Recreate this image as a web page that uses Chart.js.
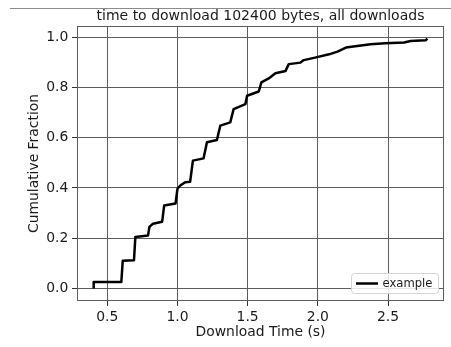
<!DOCTYPE html>
<html>
<head>
<meta charset="utf-8">
<script src="https://cdn.jsdelivr.net/npm/chart.js@4/dist/chart.umd.min.js"></script>
<style>
  html, body { margin: 0; padding: 0; background: #ffffff; }
  #wrap { position: relative; width: 451px; height: 347px; }
  canvas { display: block; }
</style>
</head>
<body>
<div id="wrap"><canvas id="c" width="451" height="347"></canvas></div>
<script>
const chartTitle = 'time to download 102400 bytes, all downloads';
const xAxisLabel = 'Download Time (s)';
const yAxisLabel = 'Cumulative Fraction';
const seriesLabel = 'example';

const downloadTimes = [
  0.403, 0.403, 0.600, 0.610, 0.690, 0.700, 0.790, 0.800, 0.826, 0.891,
  0.905, 0.986, 1.000, 1.020, 1.055, 1.090, 1.110, 1.186, 1.210, 1.281,
  1.305, 1.376, 1.400, 1.484, 1.496, 1.579, 1.598, 1.650, 1.698, 1.770,
  1.793, 1.876, 1.900, 1.980, 2.080, 2.140, 2.200, 2.280, 2.376, 2.480,
  2.615, 2.660, 2.770, 2.780
];
const cumulativeFraction = [
  0.000, 0.026, 0.026, 0.110, 0.112, 0.205, 0.211, 0.245, 0.258, 0.266,
  0.330, 0.338, 0.397, 0.410, 0.423, 0.425, 0.509, 0.518, 0.582, 0.591,
  0.648, 0.661, 0.714, 0.734, 0.767, 0.784, 0.820, 0.836, 0.857, 0.866,
  0.893, 0.899, 0.909, 0.919, 0.932, 0.943, 0.959, 0.965, 0.972, 0.976,
  0.979, 0.985, 0.988, 0.995
];
const xTickValues = [0.5, 1.0, 1.5, 2.0, 2.5];
const yTickValues = [0.0, 0.2, 0.4, 0.6, 0.8, 1.0];

const FONT = "'DejaVu Sans', 'Liberation Sans', sans-serif";
const GRID = '#5c5c5c';
const TEXT = '#1a1a1a';

const points = downloadTimes.map((t, i) => ({ x: t, y: cumulativeFraction[i] }));

const xMin = Math.min(...downloadTimes), xMax = Math.max(...downloadTimes);
const xPad = (xMax - xMin) * 0.05;
const yMin = 0, yMax = Math.max(...cumulativeFraction);
const yPad = (yMax - yMin) * 0.05;

const decorPlugin = {
  id: 'decor',
  beforeDraw(chart) {
    const ctx = chart.ctx;
    ctx.save();
    ctx.fillStyle = '#ffffff';
    ctx.fillRect(0, 0, chart.width, chart.height);
    ctx.fillStyle = '#8c8c8c';
    ctx.fillRect(10, 8, chart.width - 10, 1);
    ctx.restore();
  },
  afterDraw(chart) {
    const ctx = chart.ctx;
    const a = chart.chartArea;
    ctx.save();
    // frame
    ctx.strokeStyle = GRID;
    ctx.lineWidth = 1;
    ctx.strokeRect(Math.round(a.left) + 0.5, Math.round(a.top) + 0.5,
                   Math.round(a.right - a.left) - 1, Math.round(a.bottom - a.top) - 1);
    // title
    ctx.fillStyle = TEXT;
    ctx.font = '14px ' + FONT;
    ctx.textAlign = 'center';
    ctx.textBaseline = 'alphabetic';
    ctx.fillText(chartTitle, (a.left + a.right) / 2, 19.5);
    // legend
    const fs = 11.6;
    ctx.font = fs + 'px ' + FONT;
    const tw = ctx.measureText(seriesLabel).width;
    const bx = 351.5, by = 273.5;
    const bw = 87, bh = 20;
    const r = 3;
    ctx.beginPath();
    ctx.moveTo(bx + r, by);
    ctx.lineTo(bx + bw - r, by);
    ctx.quadraticCurveTo(bx + bw, by, bx + bw, by + r);
    ctx.lineTo(bx + bw, by + bh - r);
    ctx.quadraticCurveTo(bx + bw, by + bh, bx + bw - r, by + bh);
    ctx.lineTo(bx + r, by + bh);
    ctx.quadraticCurveTo(bx, by + bh, bx, by + bh - r);
    ctx.lineTo(bx, by + r);
    ctx.quadraticCurveTo(bx, by, bx + r, by);
    ctx.closePath();
    ctx.fillStyle = 'rgba(255,255,255,0.85)';
    ctx.fill();
    ctx.strokeStyle = '#d4d4d4';
    ctx.stroke();
    ctx.strokeStyle = '#000000';
    ctx.lineWidth = 2.5;
    ctx.beginPath();
    ctx.moveTo(356, by + bh / 2);
    ctx.lineTo(378, by + bh / 2);
    ctx.stroke();
    ctx.fillStyle = TEXT;
    ctx.textAlign = 'left';
    ctx.textBaseline = 'middle';
    ctx.fillText(seriesLabel, 382.5, by + bh / 2);
    ctx.restore();
  }
};

new Chart(document.getElementById('c'), {
  type: 'line',
  data: {
    datasets: [{
      label: seriesLabel,
      data: points,
      borderColor: '#000000',
      borderWidth: 2.5,
      pointRadius: 0,
      tension: 0,
      fill: false,
      borderJoinStyle: 'round',
      borderCapStyle: 'butt'
    }]
  },
  options: {
    responsive: false,
    animation: false,
    devicePixelRatio: 1,
    layout: { padding: { top: 26, right: 7, left: 0, bottom: 0 } },
    plugins: {
      legend: { display: false },
      title: { display: false },
      tooltip: { enabled: false }
    },
    scales: {
      x: {
        type: 'linear',
        min: xMin - xPad,
        max: xMax + xPad,
        afterBuildTicks(scale) { scale.ticks = xTickValues.map(v => ({ value: v })); },
        afterFit(scale) { scale.height = 46; },
        ticks: {
          color: TEXT,
          font: { family: FONT, size: 13.9 },
          padding: 3,
          maxRotation: 0,
          autoSkip: false,
          callback: v => Number(v).toFixed(1)
        },
        grid: { color: GRID, lineWidth: 1, tickLength: 5, tickColor: '#333333', drawTicks: true },
        border: { display: false },
        title: {
          display: true,
          text: xAxisLabel,
          color: TEXT,
          font: { family: FONT, size: 13.9 },
          padding: { top: 0, bottom: 6.7 }
        }
      },
      y: {
        type: 'linear',
        min: yMin - yPad,
        max: yMax + yPad,
        afterBuildTicks(scale) { scale.ticks = yTickValues.map(v => ({ value: v })); },
        afterFit(scale) { scale.width = 77; },
        ticks: {
          color: TEXT,
          font: { family: FONT, size: 13.9 },
          padding: 3.7,
          autoSkip: false,
          callback: v => Number(v).toFixed(1)
        },
        grid: { color: GRID, lineWidth: 1, tickLength: 5, tickColor: '#333333', drawTicks: true },
        border: { display: false },
        title: {
          display: true,
          text: yAxisLabel,
          color: TEXT,
          font: { family: FONT, size: 13.9 },
          padding: { top: 26.4, bottom: 0 }
        }
      }
    }
  },
  plugins: [decorPlugin]
});
</script>
</body>
</html>
